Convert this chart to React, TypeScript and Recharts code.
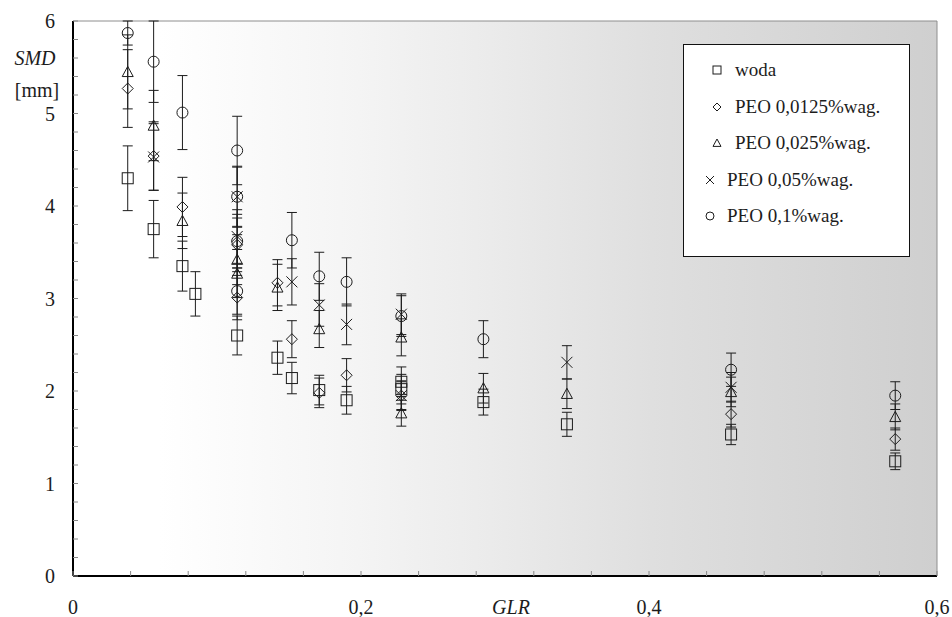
import React from 'react';
import { ScatterChart, Scatter, XAxis, YAxis, CartesianGrid, ErrorBar, Legend } from 'recharts';

// [GLR, SMD (mm), error (mm)]
type Pt = [number, number, number];

const woda: Pt[] = [
  [0.038, 4.3, 0.35], [0.056, 3.75, 0.31], [0.076, 3.35, 0.27], [0.085, 3.05, 0.24],
  [0.114, 2.6, 0.21], [0.142, 2.36, 0.18], [0.152, 2.14, 0.17], [0.171, 2.01, 0.16],
  [0.19, 1.9, 0.15], [0.228, 2.1, 0.16], [0.228, 2.02, 0.16], [0.285, 1.88, 0.14],
  [0.343, 1.64, 0.13], [0.457, 1.53, 0.11], [0.571, 1.24, 0.09],
];
const peo0125: Pt[] = [
  [0.038, 5.27, 0.42], [0.056, 4.54, 0.37], [0.076, 3.99, 0.32], [0.114, 3.58, 0.29],
  [0.114, 3.01, 0.24], [0.142, 3.17, 0.25], [0.152, 2.56, 0.2], [0.171, 1.98, 0.16],
  [0.19, 2.17, 0.18], [0.228, 1.95, 0.16], [0.457, 1.75, 0.14], [0.571, 1.48, 0.12],
];
const peo025: Pt[] = [
  [0.038, 5.45, 0.4], [0.056, 4.87, 0.38], [0.076, 3.84, 0.3], [0.114, 3.42, 0.27],
  [0.114, 3.27, 0.26], [0.142, 3.12, 0.25], [0.171, 2.67, 0.2], [0.228, 2.58, 0.2],
  [0.228, 1.76, 0.14], [0.285, 2.03, 0.16], [0.343, 1.97, 0.16], [0.457, 1.99, 0.16],
  [0.571, 1.72, 0.14],
];
const peo05: Pt[] = [
  [0.056, 4.53, 0.36], [0.114, 4.1, 0.32], [0.114, 3.67, 0.29], [0.152, 3.18, 0.25],
  [0.171, 2.93, 0.23], [0.19, 2.72, 0.22], [0.228, 2.83, 0.22], [0.228, 1.95, 0.15],
  [0.343, 2.31, 0.18], [0.457, 2.04, 0.16],
];
const peo1: Pt[] = [
  [0.038, 5.87, 0.13], [0.056, 5.56, 0.44], [0.076, 5.01, 0.4], [0.114, 4.6, 0.37],
  [0.114, 4.1, 0.33], [0.114, 3.62, 0.29], [0.114, 3.08, 0.25], [0.152, 3.63, 0.3],
  [0.171, 3.24, 0.26], [0.19, 3.18, 0.26], [0.228, 2.81, 0.22], [0.285, 2.56, 0.2],
  [0.457, 2.23, 0.18], [0.571, 1.95, 0.15],
];

const xMajorTicks = [0, 0.2, 0.4, 0.6];
const xTickLabels = ['0', '0,2', '0,4', '0,6'];
const yMajorTicks = [0, 1, 2, 3, 4, 5, 6];
const xMinorTicks = Array.from({ length: 16 }, (_, i) => +(i * 0.04).toFixed(2));
const yMinorTicks = Array.from({ length: 31 }, (_, i) => +(i * 0.2).toFixed(1));

const series = [
  { name: 'woda', kind: 'square', data: woda },
  { name: 'PEO 0,0125%wag.', kind: 'diamond', data: peo0125 },
  { name: 'PEO 0,025%wag.', kind: 'triangle', data: peo025 },
  { name: 'PEO 0,05%wag.', kind: 'cross', data: peo05 },
  { name: 'PEO 0,1%wag.', kind: 'circle', data: peo1 },
];

const INK = '#1c1c1c';
const FONT = 'Liberation Serif, DejaVu Serif, serif';

const Mark = ({ kind, cx, cy, s = 5.5 }: any) => {
  const st = { fill: 'none', stroke: INK, strokeWidth: 1 };
  switch (kind) {
    case 'square':
      return <rect x={cx - s} y={cy - s} width={2 * s} height={2 * s} {...st} />;
    case 'diamond':
      return <path d={`M${cx},${cy - s}L${cx + s},${cy}L${cx},${cy + s}L${cx - s},${cy}Z`} {...st} />;
    case 'triangle':
      return <path d={`M${cx},${cy - s}L${cx + s},${cy + s * 0.85}L${cx - s},${cy + s * 0.85}Z`} {...st} />;
    case 'cross':
      return <path d={`M${cx - s},${cy - s}L${cx + s},${cy + s}M${cx + s},${cy - s}L${cx - s},${cy + s}`} {...st} />;
    default:
      return <circle cx={cx} cy={cy} r={s} {...st} />;
  }
};

const XTick = (p: any) => {
  const v = p.payload.value;
  const i = xMajorTicks.findIndex((t) => Math.abs(t - v) < 1e-9);
  return (
    <g>
      <line x1={p.x} x2={p.x} y1={p.y} y2={p.y - 5} stroke="#888" />
      {i >= 0 && (
        <text x={p.x} y={p.y + 38} textAnchor="middle" style={{ fontFamily: FONT }} fontSize={20} fill={INK}>
          {xTickLabels[i]}
        </text>
      )}
    </g>
  );
};

const YTick = (p: any) => {
  const v = p.payload.value;
  const major = yMajorTicks.some((t) => Math.abs(t - v) < 1e-9);
  return (
    <g>
      <line x1={p.x} x2={p.x + 5} y1={p.y} y2={p.y} stroke="#888" />
      {major && (
        <text x={p.x - 18} y={p.y + 7} textAnchor="end" style={{ fontFamily: FONT }} fontSize={20} fill={INK}>
          {v}
        </text>
      )}
    </g>
  );
};

const LegendBox = () => (
  <div
    style={{
      position: 'relative',
      width: 227,
      height: 213,
      boxSizing: 'border-box',
      border: '1.5px solid #111',
      background: '#fff',
      fontFamily: FONT,
      fontSize: 19,
      color: INK,
    }}
  >
    {series.map((s, i) => {
      const wide = s.kind === 'cross' || s.kind === 'circle';
      const symX = wide ? 26 : 33;
      const txtX = wide ? 43 : 51;
      const cy = 25 + i * 36.6;
      return (
        <div key={s.name}>
          <svg style={{ position: 'absolute', left: symX - 6, top: cy - 6 }} width={12} height={12}>
            <Mark kind={s.kind} cx={6} cy={6} s={4} />
          </svg>
          <span style={{ position: 'absolute', left: txtX, top: cy - 12, lineHeight: '24px', whiteSpace: 'nowrap' }}>
            {s.name}
          </span>
        </div>
      );
    })}
  </div>
);

export default function App() {
  return (
    <div style={{ width: 952, height: 617, background: '#fff', fontFamily: FONT }}>
      <style>{'body{margin:0}'}</style>
      <ScatterChart width={952} height={617} margin={{ top: 21, right: 15, left: 0, bottom: 0 }}>
        <defs>
          <linearGradient id="bgGrad" x1="0" y1="0" x2="1" y2="0">
            <stop offset="0" stopColor="#ffffff" />
            <stop offset="0.1" stopColor="#ffffff" />
            <stop offset="0.33" stopColor="#f4f4f4" />
            <stop offset="0.5" stopColor="#eaeaea" />
            <stop offset="0.67" stopColor="#dfdfdf" />
            <stop offset="1" stopColor="#cfcfcf" />
          </linearGradient>
        </defs>
        <CartesianGrid xAxisId="top" yAxisId="right" fill="url(#bgGrad)" fillOpacity={1} stroke="#8e8e8e" />
        <XAxis
          type="number"
          dataKey="x"
          domain={[0, 0.6]}
          ticks={xMinorTicks}
          interval={0}
          tick={<XTick />}
          tickLine={false}
          tickSize={0}
          tickMargin={0}
          height={41}
          axisLine={{ stroke: '#000', strokeWidth: 2 }}
          allowDataOverflow
          label={{
            content: () => (
              <text x={511} y={614} textAnchor="middle" style={{ fontFamily: FONT, fontStyle: 'italic' }} fontSize={20} fill={INK}>
                GLR
              </text>
            ),
          }}
        />
        <XAxis
          xAxisId="top"
          orientation="top"
          type="number"
          domain={[0, 0.6]}
          ticks={xMajorTicks}
          tick={false}
          tickLine={false}
          height={0}
          axisLine={{ stroke: '#000', strokeWidth: 1.5 }}
        />
        <YAxis
          type="number"
          dataKey="y"
          domain={[0, 6]}
          ticks={yMinorTicks}
          interval={0}
          tick={<YTick />}
          tickLine={false}
          tickSize={0}
          tickMargin={0}
          width={73}
          axisLine={{ stroke: '#000', strokeWidth: 2 }}
          allowDataOverflow
          label={{
            content: () => (
              <g style={{ fontFamily: FONT }} fontSize={20} fill={INK}>
                <text x={35} y={65} textAnchor="middle" style={{ fontStyle: 'italic' }}>SMD</text>
                <text x={37} y={97} textAnchor="middle">[mm]</text>
              </g>
            ),
          }}
        />
        <YAxis
          yAxisId="right"
          orientation="right"
          type="number"
          domain={[0, 6]}
          ticks={yMajorTicks}
          tick={false}
          tickLine={false}
          width={0}
          axisLine={{ stroke: '#555', strokeWidth: 1.5 }}
        />
        <Legend
          layout="horizontal"
          verticalAlign="middle"
          align="center"
          wrapperStyle={{ position: 'absolute', left: 683, top: 44, width: 227, height: 213 }}
          content={() => <LegendBox />}
        />
        {series.map((s) => (
          <Scatter
            key={s.name}
            name={s.name}
            data={s.data.map(([x, y, err]) => ({ x, y, err }))}
            isAnimationActive={false}
            shape={(p: any) => <Mark kind={s.kind} cx={p.cx} cy={p.cy} />}
          >
            <ErrorBar dataKey="err" direction="y" width={5} stroke={INK} strokeWidth={1} />
          </Scatter>
        ))}
      </ScatterChart>
    </div>
  );
}
